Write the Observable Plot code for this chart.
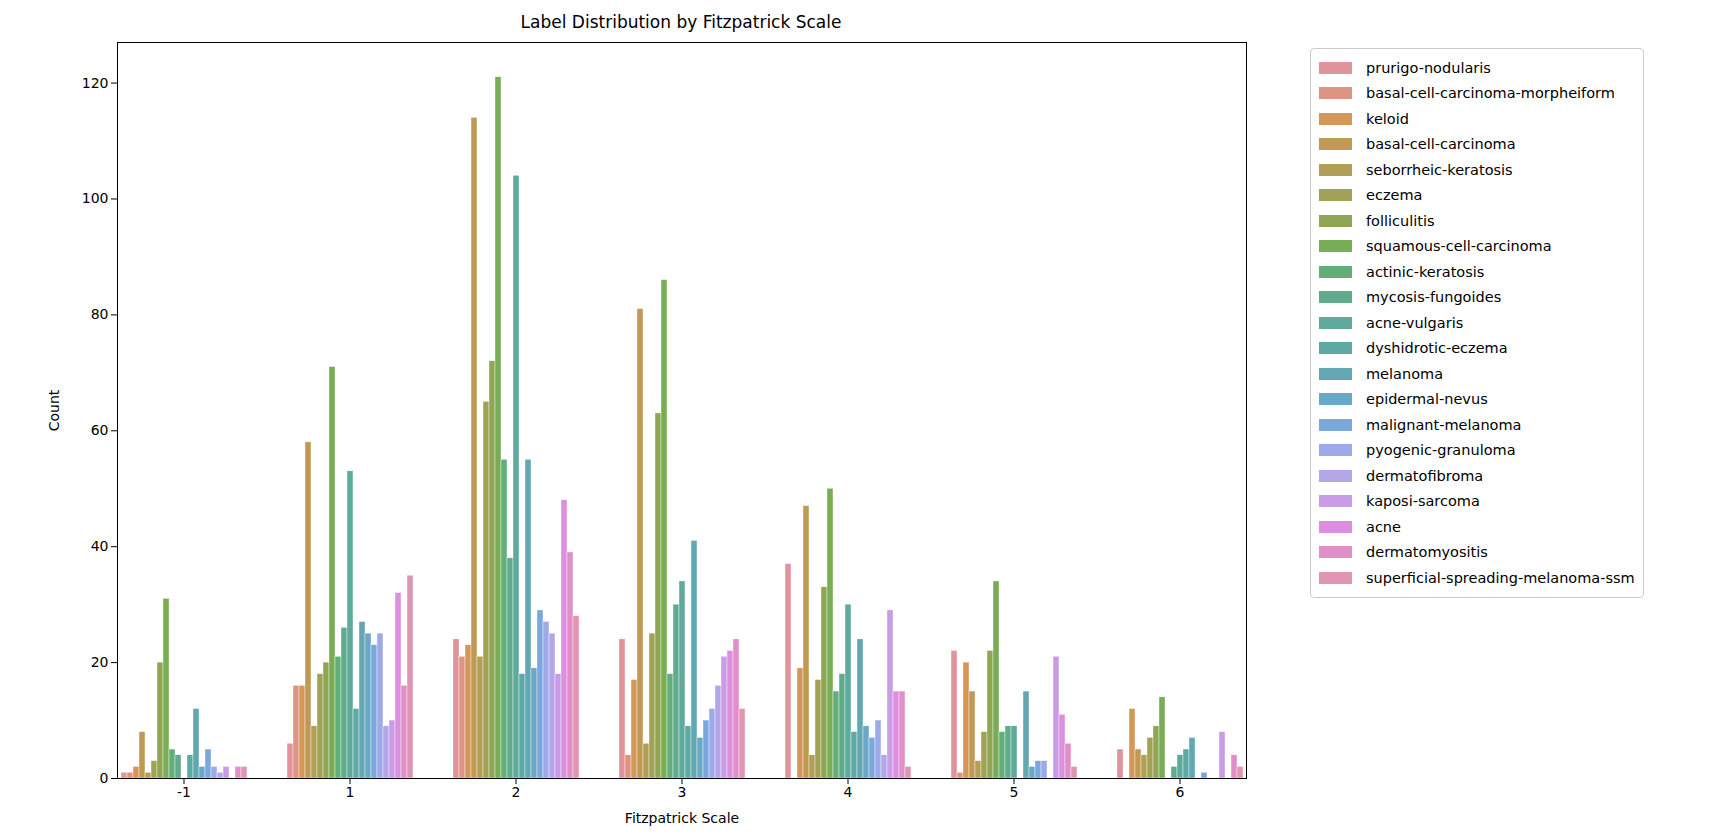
<!DOCTYPE html>
<html><head><meta charset="utf-8">
<script src="https://cdn.jsdelivr.net/npm/d3@7"></script>
<script src="https://cdn.jsdelivr.net/npm/@observablehq/plot@0.6"></script>
<style>
body{margin:0;background:#fff;font-family:"DejaVu Sans",sans-serif;}
#wrap{position:relative;width:1724px;height:840px;}
#title{position:absolute;left:116px;width:1130px;top:12px;text-align:center;font-size:17px;}
#chart{position:absolute;left:0;top:30px;}
#legend{position:absolute;left:1310px;top:48px;border:1px solid #ccc;border-radius:4px;padding:6px 8px;font-size:14.5px;}
.it{display:flex;align-items:center;height:25.5px;}
.sw{width:33px;height:12px;margin-right:14px;}
</style></head>
<body><div id="wrap"><div id="title">Label Distribution by Fitzpatrick Scale</div><div id="chart"></div><div id="legend"></div></div>
<script>
const groups = ["-1","1","2","3","4","5","6"];
const labels = ["prurigo-nodularis","basal-cell-carcinoma-morpheiform","keloid","basal-cell-carcinoma","seborrheic-keratosis","eczema","folliculitis","squamous-cell-carcinoma","actinic-keratosis","mycosis-fungoides","acne-vulgaris","dyshidrotic-eczema","melanoma","epidermal-nevus","malignant-melanoma","pyogenic-granuloma","dermatofibroma","kaposi-sarcoma","acne","dermatomyositis","superficial-spreading-melanoma-ssm"];
const colors = ["#e0939a","#dd9480","#d4975a","#c09a55","#b09f55","#a0a255","#8fa655","#78ad55","#63ae78","#60ab8c","#5faa9c","#5fa9a5","#63a7b3","#6aa8c8","#7aa7dc","#9eaae8","#b4a6e8","#c99ce6","#dc8fde","#e08fc8","#e095b2"];
const countsM1 = [1,1,2,8,1,3,20,31,5,4,0,4,12,2,5,2,1,2,0,2,2];
const counts1 = [6,16,16,58,9,18,20,71,21,26,53,12,27,25,23,25,9,10,32,16,35];
const counts2 = [24,21,23,114,21,65,72,121,55,38,104,18,55,19,29,27,25,18,48,39,28];
const counts3 = [24,4,17,81,6,25,63,86,18,30,34,9,41,7,10,12,16,21,22,24,12];
const counts4 = [37,0,19,47,4,17,33,50,15,18,30,8,24,9,7,10,4,29,15,15,2];
const counts5 = [22,1,20,15,3,8,22,34,8,9,9,0,15,2,3,3,0,21,11,6,2];
const counts6 = [5,0,12,5,4,7,9,14,0,2,4,5,7,0,1,0,0,8,0,4,2];
const series = [countsM1,counts1,counts2,counts3,counts4,counts5,counts6];

const data = [];
groups.forEach((g,gi) => labels.forEach((l,li) => data.push({group:g, label:l, count:series[gi][li]})));

const chart = Plot.plot({
  width: 1260, height: 800,
  marginLeft: 116, marginRight: 14, marginTop: 12, marginBottom: 52,
  style: {fontFamily: "DejaVu Sans", fontSize: "14px", color: "#000"},
  fx: {domain: groups, padding: 0.2, label: "Fitzpatrick Scale", labelAnchor: "center", labelOffset: 44, tickSize: 6},
  x: {domain: labels, axis: null, padding: 0},
  y: {domain: [0,127], ticks: [0,20,40,60,80,100,120], label: "Count", labelAnchor: "center", labelArrow: "none", labelOffset: 68, tickSize: 6},
  color: {domain: labels, range: colors},
  marks: [
    Plot.barY(data, {fx: "group", x: "label", y: "count", fill: "label", stroke: "#fff", strokeWidth: 0.4, inset: 0}),
    Plot.frame({facet: "super", stroke: "#000"})
  ]
});
document.getElementById("chart").append(chart);

const lg = d3.select("#legend");
labels.forEach((l,i) => {
  const it = lg.append("div").attr("class","it");
  it.append("div").attr("class","sw").style("background", colors[i]);
  it.append("span").text(l);
});
</script></body></html>
